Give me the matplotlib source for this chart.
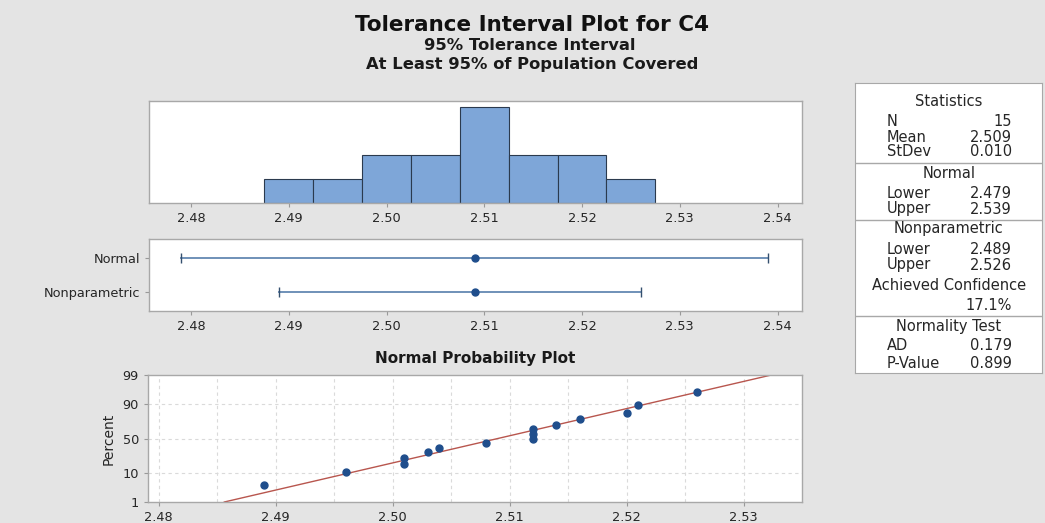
import statistics
import numpy as np
import matplotlib.pyplot as plt

W, H = 1045, 523

c4 = [2.489, 2.496, 2.501, 2.501, 2.503, 2.504, 2.508, 2.512, 2.512, 2.512,
      2.514, 2.516, 2.520, 2.521, 2.526]
# plotted percent for each point
percent = [4.5, 11.0, 17.5, 24.0, 30.5, 37.0, 43.5, 50.0, 56.5, 63.0,
           69.5, 76.0, 82.5, 89.0, 95.5]
bin_edges = [2.4875, 2.4925, 2.4975, 2.5025, 2.5075, 2.5125, 2.5175, 2.5225, 2.5275]

interval_names = ['Nonparametric', 'Normal']
interval_lower = [2.489, 2.479]
interval_upper = [2.526, 2.539]
mean_c4 = 2.509
stdev_c4 = 0.01005

x_ticks = [2.48, 2.49, 2.50, 2.51, 2.52, 2.53, 2.54]
prob_x_ticks = [2.48, 2.49, 2.50, 2.51, 2.52, 2.53]
prob_grid_x = [2.480, 2.485, 2.490, 2.495, 2.500, 2.505, 2.510, 2.515,
               2.520, 2.525, 2.530]
prob_ticks = [1, 10, 50, 90, 99]

stats_labels = ['Statistics', 'N', 'Mean', 'StDev', 'Normal', 'Lower', 'Upper',
                'Nonparametric', 'Lower', 'Upper', 'Achieved Confidence', '',
                'Normality Test', 'AD', 'P-Value']
stats_values = [None, '15', '2.509', '0.010', None, '2.479', '2.539',
                None, '2.489', '2.526', None, '17.1%',
                None, '0.179', '0.899']

BG = '#e4e4e4'
SPINE = '#a8a8a8'
TXT = '#262626'
plt.rcParams['font.family'] = ['DejaVu Sans']


def rect(l, t, r, b):
    return [l / W, 1 - b / H, (r - l) / W, (b - t) / H]


def style(ax):
    for s in ax.spines.values():
        s.set_color(SPINE)
        s.set_linewidth(1.0)
    ax.tick_params(colors='#999999', labelcolor=TXT, labelsize=9.3, length=3)


nd = statistics.NormalDist()


def probit(p):
    return nd.inv_cdf(p / 100.0)


fig = plt.figure(figsize=(W / 100, H / 100), dpi=100, facecolor=BG)

# titles
fig.text(532 / W, 1 - 25 / H, 'Tolerance Interval Plot for C4', ha='center', va='center',
         fontsize=15.5, fontweight='bold', color='#111111')
fig.text(530 / W, 1 - 45 / H, '95% Tolerance Interval', ha='center', va='center',
         fontsize=11.8, fontweight='bold', color='#1a1a1a')
fig.text(532 / W, 1 - 64 / H, 'At Least 95% of Population Covered', ha='center', va='center',
         fontsize=11.8, fontweight='bold', color='#1a1a1a')

# histogram
ax1 = fig.add_axes(rect(149, 101, 802, 203))
ax1.hist(c4, bins=bin_edges, color='#7ea6d8', edgecolor='#2b3a4e', linewidth=0.8)
ax1.set_xlim(2.4757, 2.5425)
ax1.set_ylim(0, 4.24)
ax1.set_yticks([])
ax1.set_xticks(x_ticks)
ax1.set_xticklabels(['%.2f' % v for v in x_ticks])
style(ax1)

# tolerance intervals
ax2 = fig.add_axes(rect(149, 239, 802, 311))
for i, name in enumerate(interval_names):
    ax2.plot([interval_lower[i], interval_upper[i]], [i, i], color='#6f90b8', lw=1.4)
    ax2.plot([interval_lower[i], interval_upper[i]], [i, i], ls='none', marker='|',
             ms=7, mew=1.0, color='#34506f')
    ax2.plot(mean_c4, i, 'o', ms=5, color='#1f4e8c')
ax2.set_xlim(2.4757, 2.5425)
ax2.set_ylim(-0.56, 1.56)
ax2.set_yticks(range(len(interval_names)))
ax2.set_yticklabels(interval_names)
ax2.set_xticks(x_ticks)
ax2.set_xticklabels(['%.2f' % v for v in x_ticks])
style(ax2)

# normal probability plot
ax3 = fig.add_axes(rect(148, 375, 802, 502))
for gx in prob_grid_x:
    ax3.axvline(gx, color='#dadada', lw=0.8, ls=(0, (3, 3)), zorder=0)
for gy in [10, 50, 90]:
    ax3.axhline(probit(gy), color='#dadada', lw=0.8, ls=(0, (3, 3)), zorder=0)
z_lo, z_hi = probit(1), probit(99)
ax3.plot([mean_c4 + stdev_c4 * z_lo, mean_c4 + stdev_c4 * z_hi], [z_lo, z_hi],
         color='#b8564e', lw=1.0, zorder=2)
ax3.plot(c4, [probit(p) for p in percent], 'o', ms=5, color='#1f4e8c', zorder=3)
ax3.set_xlim(2.4791, 2.5350)
ax3.set_ylim(z_lo, z_hi)
ax3.set_xticks(prob_x_ticks)
ax3.set_xticklabels(['%.2f' % v for v in prob_x_ticks])
ax3.set_yticks([probit(p) for p in prob_ticks])
ax3.set_yticklabels([str(p) for p in prob_ticks])
ax3.set_ylabel('Percent', fontsize=10, color=TXT, labelpad=5)
ax3.set_title('Normal Probability Plot', fontsize=11, fontweight='bold', color='#1a1a1a', pad=9)
style(ax3)

# statistics table
sb = fig.add_axes(rect(855, 83, 1042, 373))
sb.set_xlim(855, 1042)
sb.set_ylim(373, 83)
sb.set_xticks([])
sb.set_yticks([])
for s in sb.spines.values():
    s.set_color(SPINE)
for y in [163, 220, 316]:
    sb.axhline(y, color=SPINE, lw=1.0)
row_y = [101, 121, 137, 152, 173, 193, 209, 229, 250, 265, 285, 306, 327, 346, 363]
for lab, val, y in zip(stats_labels, stats_values, row_y):
    if val is None:
        sb.text(949, y, lab, ha='center', va='center', fontsize=10.5, color=TXT)
    else:
        sb.text(887, y, lab, ha='left', va='center', fontsize=10.5, color=TXT)
        sb.text(1012, y, val, ha='right', va='center', fontsize=10.5, color=TXT)

fig.savefig('out.png', dpi=100, facecolor=BG)
